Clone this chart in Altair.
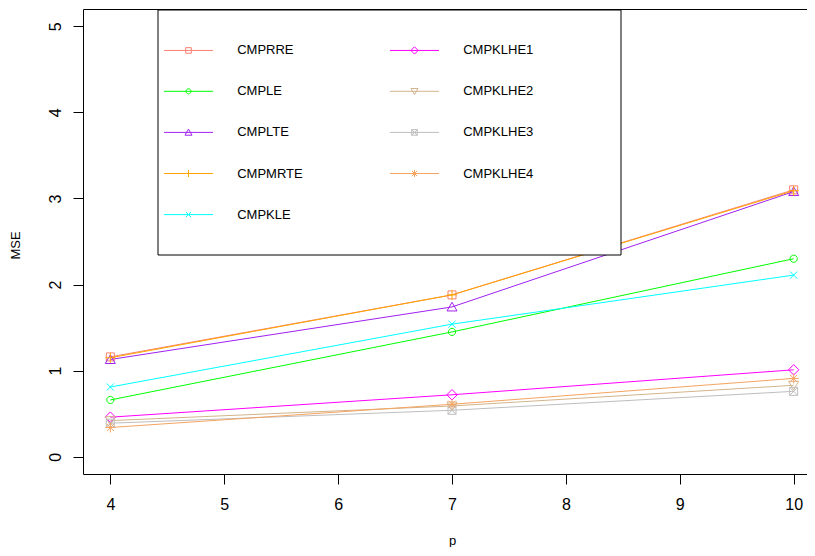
import altair as alt
import pandas as pd

# ---- data ----
p_values = [4, 7, 10]
series_names = ["CMPRRE", "CMPLE", "CMPLTE", "CMPMRTE", "CMPKLE",
                "CMPKLHE1", "CMPKLHE2", "CMPKLHE3", "CMPKLHE4"]
cmprre = [1.16, 1.88, 3.10]
cmple = [0.66, 1.45, 2.30]
cmplte = [1.13, 1.74, 3.08]
cmpmrte = [1.15, 1.88, 3.09]
cmpkle = [0.81, 1.54, 2.11]
cmpklhe1 = [0.46, 0.72, 1.01]
cmpklhe2 = [0.42, 0.59, 0.83]
cmpklhe3 = [0.39, 0.54, 0.76]
cmpklhe4 = [0.34, 0.61, 0.91]
series_values = [cmprre, cmple, cmplte, cmpmrte, cmpkle,
                 cmpklhe1, cmpklhe2, cmpklhe3, cmpklhe4]
series_colors = ["#FA8072", "#00FF00", "#A020F0", "#FFA500", "#00FFFF",
                 "#FF00FF", "#D2B48C", "#BEBEBE", "#F4A460"]
marker_kinds = ["square", "circle", "triup", "plus", "cross",
                "diamond", "tridown", "squarex", "asterisk"]
x_ticks = [4, 5, 6, 7, 8, 9, 10]
y_ticks = [0, 1, 2, 3, 4, 5]

rows = []
for name, vals in zip(series_names, series_values):
    for p, v in zip(p_values, vals):
        rows.append({"series": name, "p": p, "mse": v})
df = pd.DataFrame(rows)


# ---- marker glyphs (R pch 0..8) as SVG paths, in pixel units ----
def f(v):
    return f"{v:.2f}"


def marker_path(kind, s):
    sq, r, pl, cr, dm = 4 * s, 3.6 * s, 5 * s, 3.6 * s, 5.2 * s
    if kind == "square":
        return f"M{f(-sq)},{f(-sq)}H{f(sq)}V{f(sq)}H{f(-sq)}Z"
    if kind == "circle":
        return f"M{f(-r)},0A{f(r)},{f(r)},0,1,1,{f(r)},0A{f(r)},{f(r)},0,1,1,{f(-r)},0Z"
    if kind == "triup":
        return f"M0,{f(-4.7 * s)}L{f(5 * s)},{f(4 * s)}H{f(-5 * s)}Z"
    if kind == "tridown":
        return f"M0,{f(4.7 * s)}L{f(5 * s)},{f(-4 * s)}H{f(-5 * s)}Z"
    if kind == "plus":
        return f"M{f(-pl)},0H{f(pl)}M0,{f(-pl)}V{f(pl)}"
    if kind == "cross":
        return f"M{f(-cr)},{f(-cr)}L{f(cr)},{f(cr)}M{f(-cr)},{f(cr)}L{f(cr)},{f(-cr)}"
    if kind == "diamond":
        return f"M0,{f(-dm)}L{f(dm)},0L0,{f(dm)}L{f(-dm)},0Z"
    if kind == "squarex":
        return marker_path("square", s) + marker_path("cross", s * 4 / 3.6)
    if kind == "asterisk":
        return marker_path("plus", s) + marker_path("cross", s)
    return ""


plot_paths = [marker_path(k, 1.0) for k in marker_kinds]
# legend glyph: a short line with a smaller marker; extra move-to points size the entry box
legend_extent = "M197.5,0M0,-33.7M0,31"
legend_paths = ["M-24.5,0H24.5" + marker_path(k, 0.7) + legend_extent for k in marker_kinds]

FONT = "Liberation Sans"
TICK_FS = 16
TITLE_FS = 13

x_bottom = alt.X("p:Q", scale=alt.Scale(domain=[3.76, 10.117], nice=False, zero=False),
                 axis=alt.Axis(values=x_ticks, tickSize=10, tickColor="black", tickWidth=1,
                               domain=True, domainColor="black", domainWidth=1,
                               grid=False, labelFont=FONT, labelFontSize=TICK_FS,
                               labelColor="black", labelPadding=12, labelFlush=False,
                               labelOverlap=False, title="p", titleFont=FONT,
                               titleFontSize=TITLE_FS, titleFontWeight="normal",
                               titleColor="black", titleX=369, titleY=70,
                               titleAlign="center", titleBaseline="alphabetic"))
x_top = alt.X("p:Q", axis=alt.Axis(orient="top", labels=False, ticks=False, grid=False,
                                   domain=True, domainColor="black", domainWidth=1,
                                   title=None))
x_none = alt.X("p:Q", axis=None)
y_enc = alt.Y("mse:Q", scale=alt.Scale(domain=[-0.2, 5.2], nice=False, zero=False),
              axis=alt.Axis(values=y_ticks, tickSize=10, tickColor="black", tickWidth=1,
                            domain=True, domainColor="black", domainWidth=1,
                            grid=False, labelFont=FONT, labelFontSize=TICK_FS,
                            labelColor="black", labelPadding=13, labelAngle=270,
                            labelAlign="center", labelBaseline="alphabetic",
                            labelFlush=False, labelOverlap=False, title="MSE",
                            titleFont=FONT, titleFontSize=TITLE_FS, titleFontWeight="normal",
                            titleColor="black", titleAngle=270, titleX=-63.5, titleY=236,
                            titleAlign="center", titleBaseline="alphabetic"))

color_scale = alt.Scale(domain=series_names, range=series_colors)
base = alt.Chart(df)

lines = base.mark_line(strokeWidth=1).encode(
    x=x_bottom, y=y_enc,
    color=alt.Color("series:N", scale=color_scale, legend=None),
)

points = base.mark_point(filled=False, size=4, strokeWidth=1, opacity=1).encode(
    x=x_top, y=y_enc,
    color=alt.Color("series:N", scale=color_scale, legend=None),
    shape=alt.Shape("series:N", scale=alt.Scale(domain=series_names, range=plot_paths),
                    legend=None),
)

leg = alt.Legend(title="\u00a0", titleFontSize=13, titlePadding=14.7, titleOrient="top",
                 orient="none", legendX=74.5, legendY=0.5, columns=2, direction="vertical",
                 padding=6.5, symbolSize=4, symbolStrokeWidth=1, symbolOpacity=1,
                 symbolOffset=18, labelOffset=42.2, labelFont=FONT, labelFontSize=13,
                 labelColor="black", rowPadding=-28.9, columnPadding=0,
                 strokeColor="black", fillColor="white", labelLimit=0)

legend_layer = base.mark_point(filled=False, size=4, strokeWidth=1, opacity=0).encode(
    x=x_none, y=y_enc,
    color=alt.Color("series:N", scale=alt.Scale(domain=series_names, range=series_colors),
                    legend=leg),
    shape=alt.Shape("series:N", scale=alt.Scale(domain=series_names, range=legend_paths),
                    legend=leg),
)

chart = alt.layer(lines, points, legend_layer).resolve_scale(
    color="independent", shape="independent"
).resolve_axis(x="independent").properties(
    width=724, height=465,
    autosize=alt.AutoSizeParams(type="none"),
    padding={"left": 75, "top": 1, "right": 0, "bottom": 73},
    background="white",
).configure_view(stroke=None)

chart.save("out.html", embed_options={"renderer": "svg", "actions": False})
